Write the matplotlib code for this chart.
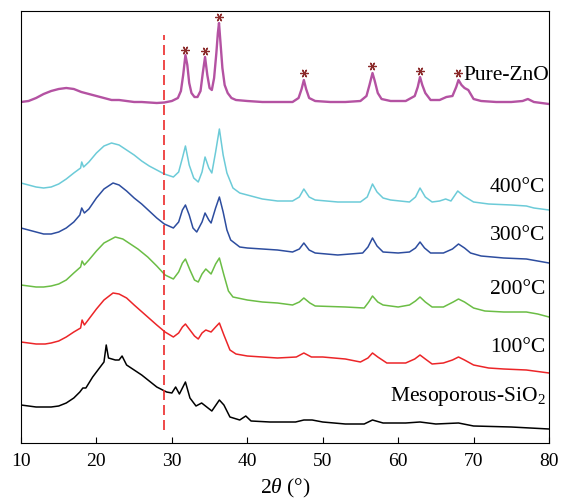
import matplotlib
matplotlib.use("Agg")
import matplotlib.pyplot as plt

plt.rcParams['font.family'] = ['Liberation Serif', 'DejaVu Serif']
plt.rcParams['mathtext.fontset'] = 'custom'
plt.rcParams['mathtext.rm'] = 'Liberation Serif'
plt.rcParams['mathtext.it'] = 'Liberation Serif:italic'

# XRD patterns, intensity in arbitrary units (already stacked)
zno_x = [10, 11, 12, 13, 14, 15, 16, 17, 18, 19, 20, 21, 22, 23, 24, 25, 26, 27, 28, 29, 30,
         30.8, 31.2, 31.5, 31.8, 32.05, 32.3, 32.6, 33.0, 33.4, 33.8, 34.1, 34.4, 34.7, 35.0,
         35.3, 35.6, 35.9, 36.1, 36.25, 36.45, 36.7, 37.0, 37.4, 37.9,
         38.5, 40, 42, 44, 46, 46.8, 47.2, 47.5, 47.8, 48.2, 49, 51, 53, 55, 55.8, 56.2, 56.6,
         56.9, 57.3, 57.8, 59, 61, 62.2, 62.6, 62.9, 63.2, 63.6, 64.3, 65.5, 66.4, 67.2, 67.7, 68,
         68.4, 68.8, 69.3, 70, 71, 73, 75, 76.5, 77.2, 78, 80]
zno_y = [341, 342, 345, 349, 352, 354, 355, 354, 351, 349, 347, 345, 343, 343, 342, 341, 341,
         340.5, 340, 340.5, 342,
         345, 352, 368, 388, 378, 360, 350, 346, 346, 352, 370, 386, 368, 355,
         353, 365, 390, 410, 420, 400, 375, 358, 350, 345,
         343, 342, 341, 341, 341, 345, 354, 363, 354, 345, 342, 341, 341, 342, 347, 358, 370,
         362, 350, 344, 342, 342, 347, 356, 366, 358, 350, 343, 343, 346, 347, 356, 363,
         358, 355, 353, 344, 342, 341, 341, 342, 344, 341, 339]

c400_x = [10, 11, 12, 13, 14, 15, 16, 17, 17.9, 18.05, 18.3, 19, 20, 21, 22, 23, 24, 25, 26, 27,
          28, 29, 30.2, 30.9, 31.4, 31.8, 32.3, 32.9, 33.5, 34.0, 34.4, 34.9, 35.3, 35.8, 36.3,
          36.8, 37.3, 38.1, 39, 40, 42, 44, 46, 46.9, 47.5, 48.2, 49, 52, 55, 55.9, 56.6, 57.2,
          58, 59, 61.5, 62.3, 62.9, 63.6, 64.5, 65.5, 66.3, 67, 67.9, 68.7, 70, 72, 75, 77, 78, 80]
c400_y = [260, 258, 256, 255, 256, 259, 264, 270, 275, 281, 276, 281, 290, 297, 300, 298, 293,
          288, 282, 277, 273, 269, 266, 271, 285, 297, 278, 265, 261, 271, 286, 275, 270, 291,
          314, 288, 270, 255, 250, 248, 244, 242, 242, 246, 254, 246, 243, 241, 241, 246, 259,
          251, 245, 243, 241, 246, 255, 246, 241, 242, 244, 242, 252, 247, 241, 239, 238, 237,
          235, 233]

c300_x = [10, 11, 12, 13, 14, 15, 16, 17, 17.8, 18.05, 18.4, 19, 20, 21, 22.2, 23, 24, 25, 26,
          27, 28, 29, 30.2, 30.9, 31.4, 31.8, 32.3, 32.8, 33.3, 34.0, 34.4, 34.9, 35.2, 35.8,
          36.3, 36.8, 37.3, 37.8, 39, 40, 42, 44, 46, 46.9, 47.5, 48.2, 49, 52, 55.3, 56, 56.6,
          57.2, 58, 60, 61.5, 62.3, 62.9, 63.5, 64.3, 66, 67.2, 68, 68.8, 69.6, 71, 74, 77, 78.5, 80]
c300_y = [215, 213, 211, 209, 209, 211, 215, 221, 228, 235, 230, 234, 245, 254, 260, 258, 252,
          245, 239, 232, 225, 219, 215, 221, 233, 238, 228, 215, 211, 221, 230, 223, 220, 235,
          246, 231, 213, 203, 196, 195, 194, 193, 191, 194, 200, 193, 190, 188, 190, 196, 205,
          197, 191, 190, 191, 195, 201, 195, 190, 190, 194, 199, 195, 190, 187, 185, 184, 182, 180]

c200_x = [10, 11, 12, 13, 14, 15, 16, 17, 17.9, 18.1, 18.4, 19, 20, 21, 22.5, 23.5, 24.5, 25.5,
          26.8, 28, 29.1, 30.2, 30.9, 31.4, 31.8, 32.4, 33.0, 33.5, 34.0, 34.5, 35.2, 35.8, 36.3,
          36.9, 37.5, 38.1, 40, 42, 44, 46, 46.9, 47.5, 48.3, 49, 53, 55.5, 56.1, 56.6, 57.3, 58,
          60, 61.5, 62.3, 62.9, 63.6, 64.5, 66, 67.3, 68, 68.8, 70, 71.5, 74, 77, 78.5, 80]
c200_y = [158, 157, 156, 156, 157, 159, 163, 170, 176, 182, 178, 183, 192, 200, 206, 204, 199,
          194, 186, 177, 168, 164, 171, 180, 184, 173, 163, 161, 169, 174, 169, 179, 185, 168,
          152, 146, 143, 141, 140, 138, 141, 145, 140, 137, 136, 135, 141, 147, 141, 138, 136,
          138, 142, 146, 141, 136, 136, 141, 144, 141, 135, 132, 131, 131, 129, 126]

c100_x = [10, 11, 12, 13.2, 14, 15, 16, 17, 17.9, 18.1, 18.4, 19, 20, 21, 22.2, 23, 24, 25, 26.8,
          28, 29.1, 30.2, 30.9, 31.4, 31.8, 32.4, 33.0, 33.5, 34.0, 34.5, 35.2, 35.8, 36.3, 36.9,
          37.7, 38.5, 40, 42, 44, 46.5, 47.5, 48.5, 50, 53, 55, 56, 56.6, 57.3, 58.5, 61, 62.2,
          62.9, 63.6, 64.5, 66, 67.2, 68, 68.8, 70, 72, 74, 77, 80]
c100_y = [101, 100, 99, 99, 100, 102, 106, 111, 115, 123, 118, 124, 134, 143, 150, 149, 145, 138,
          126, 118, 111, 106, 110, 116, 119, 113, 107, 104, 110, 113, 111, 116, 120, 108, 93, 89,
          87, 86, 85, 86, 90, 86, 86, 84, 81, 85, 90, 86, 80, 80, 84, 88, 84, 79, 80, 83, 86, 83,
          78, 75, 74, 73, 70]

sio2_x = [10, 11, 12, 13, 14, 15, 16, 17, 17.8, 18.2, 18.6, 19.5, 20.5, 21, 21.3, 21.6, 22.5,
          23.0, 23.4, 24, 25, 26, 27, 28, 29.3, 30, 30.5, 31, 31.8, 32.4, 33.2, 33.95, 35.3, 36.3,
          36.9, 37.7, 39, 39.8, 40.5, 43, 46.4, 47.5, 48.6, 50, 53, 55.5, 56.6, 58, 61, 62.9, 65,
          68, 70, 75, 80]
sio2_y = [38, 37, 36, 36, 36, 37, 40, 45, 51, 55, 55, 66, 76, 81, 98, 85, 83, 83, 87, 78, 73, 68,
          62, 56, 51, 50, 56, 49, 61, 45, 37, 40, 32, 43, 38, 26, 23, 27, 22, 21, 21, 23, 23, 21,
          19, 19, 23, 20, 20, 21, 19, 20, 17, 16, 14]

# ZnO reflections marked with asterisks
star_x = [31.8, 34.4, 36.2, 47.5, 56.6, 62.9, 67.9]
star_y = [393, 392, 426, 370, 377, 372, 370]

labels = ['Pure-ZnO', '400°C', '300°C', '200°C', '100°C', 'Mesoporous-SiO$_2$']
label_y = [367, 256, 208, 154, 96, 46]
colors = ['#b452a2', '#6ccbd8', '#2d4d9f', '#6bbd45', '#ec2528', '#000000']

fig = plt.figure(figsize=(5.61, 5.00), dpi=100)
ax = fig.add_axes([21 / 561, 57 / 500, 528 / 561, 432 / 500])

series = [(zno_x, zno_y), (c400_x, c400_y), (c300_x, c300_y),
          (c200_x, c200_y), (c100_x, c100_y), (sio2_x, sio2_y)]
for i, (xs, ys) in enumerate(series):
    lw = 1.7 if i == 0 else 1.1
    ax.plot(xs, ys, color=colors[i], lw=lw)

ax.plot(star_x, star_y, ls='none', marker=(6, 2, 90), ms=6, mew=0.9, color='#8b2a2a')

ax.plot([29, 29], [13, 408], color='#ec2a2a', lw=1.2, dashes=(6, 3))

for i, lab in enumerate(labels):
    xpos = 80.0 if i == 0 else 79.5
    ax.text(xpos, label_y[i], lab, ha='right', va='center', fontsize=15.5)

ax.set_xlim(10, 80)
ax.set_ylim(0, 432)
ax.set_xticks(range(10, 81, 10))
ax.set_yticks([])
ax.tick_params(axis='x', direction='in', length=4, labelsize=14, pad=7)
ax.set_xlabel(r'2$\it{\theta}$ (°)', fontsize=15.5, labelpad=5)

fig.savefig('out.png', dpi=100)
